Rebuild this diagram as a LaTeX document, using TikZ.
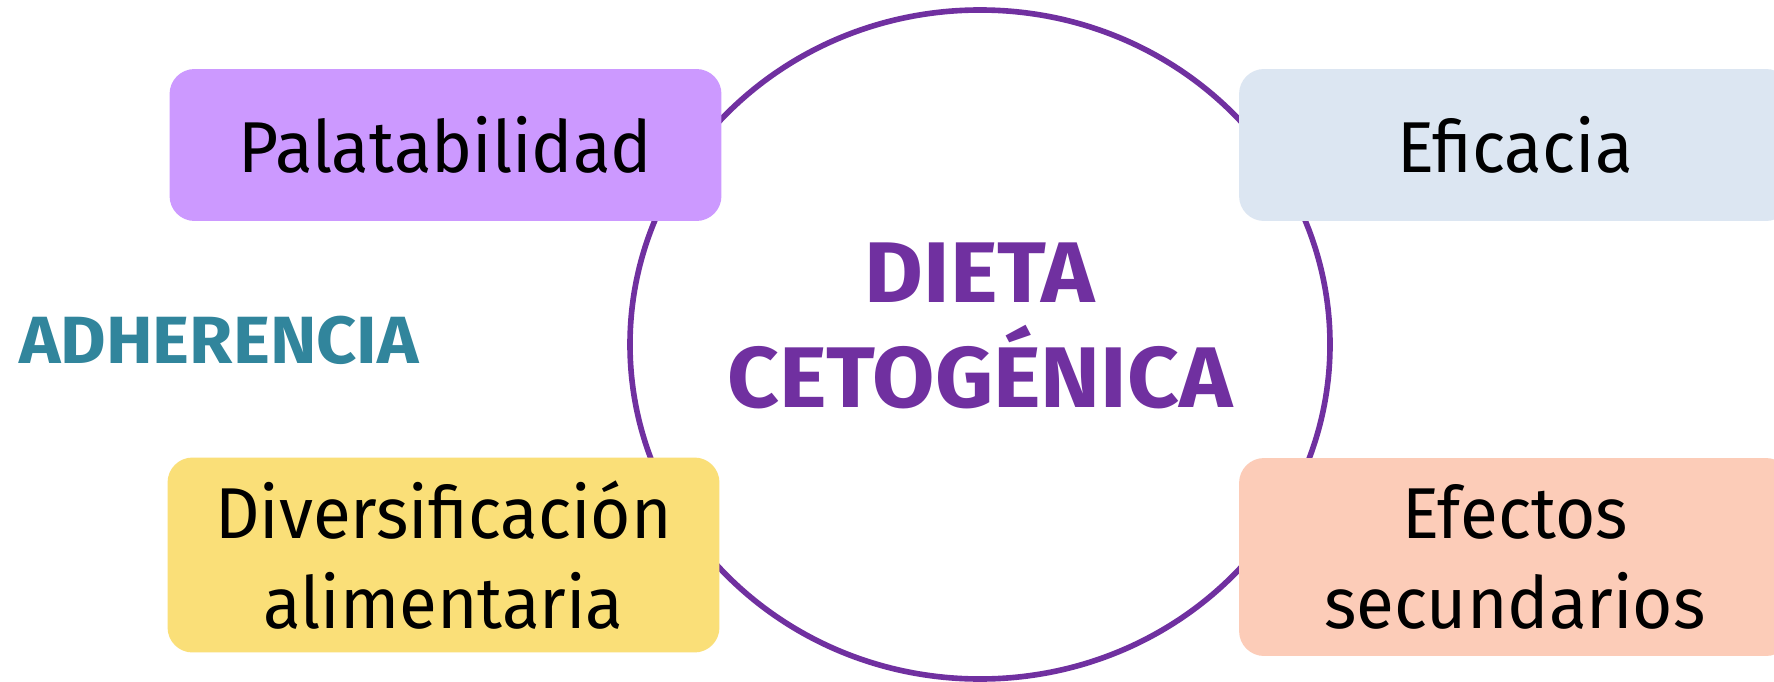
\documentclass[tikz,border=0pt]{standalone}
\usepackage{fontspec}
\setmainfont{Fira Sans}
\newfontfamily\headfont[FakeStretch=1.05]{Fira Sans}
\newfontfamily\labelfont[FakeStretch=0.96]{Fira Sans}
\usepackage{xcolor}
\definecolor{dietapurple}{RGB}{112, 48, 160}
\definecolor{dietalilac}{RGB}{204, 153, 255}
\definecolor{dietablue}{RGB}{220, 230, 242}
\definecolor{dietayellow}{RGB}{250, 223, 120}
\definecolor{dietapeach}{RGB}{252, 204, 184}
\definecolor{dietateal}{RGB}{49, 133, 156}

\begin{document}
\begin{tikzpicture}[x=0.02cm, y=-0.02cm,
    factor/.style={rectangle, rounded corners=0.5cm, inner sep=0pt, minimum width=11.04cm, align=center, text=black, font=\labelfont\fontsize{41}{51}\selectfont}]
                \clip (0,0) rectangle (1774,682);
                \fill[white] (0,0) rectangle (1774,682);

                % Central diet
                \draw[dietapurple, line width=3.2pt] (980,344.5) ellipse [x radius=350, y radius=334.5];
                \node[dietapurple, align=center, font=\headfont\bfseries\fontsize{49}{60}\selectfont] (dieta) at (980,326) {DIETA\\CETOGÉNICA};

                % Factors
                \node[factor, fill=dietalilac, minimum height=3.04cm] (palat) at (445.5,145) {Palatabilidad};
                \node[factor, fill=dietayellow, minimum height=3.9cm] (divers) at (443.5,555) {Diversificación\\alimentaria};
                \node[factor, fill=dietablue, minimum height=3.04cm] (efic) at (1515,145) {Eficacia};
                \node[factor, fill=dietapeach, minimum height=3.96cm] (efect) at (1515,557) {Efectos\\secundarios};

                % Side label
                \node[dietateal, font=\headfont\bfseries\fontsize{38}{46}\selectfont] (adher) at (219,340) {ADHERENCIA};
            \end{tikzpicture}
\end{document}
